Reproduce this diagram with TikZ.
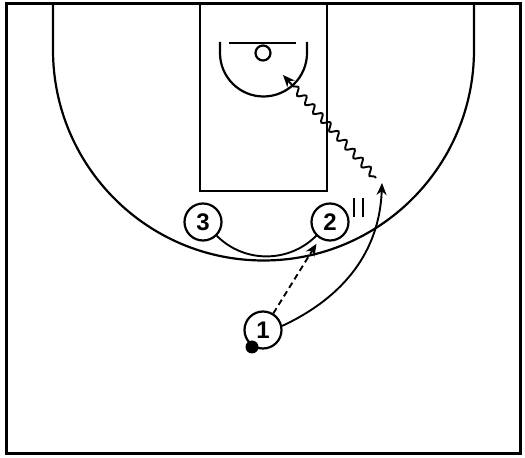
\documentclass[tikz,border=0pt]{standalone}
\usepackage{fontspec}
\setmainfont{Liberation Sans}
\usetikzlibrary{arrows.meta,decorations.pathmorphing}
\begin{document}
\begin{tikzpicture}[x=1pt,y=1pt,
  court/.style={line width=2.2pt},
  player/.style={circle,draw,line width=2.2pt,fill=white,minimum size=37pt,inner sep=0pt,font=\fontsize{24}{24}\selectfont\bfseries},
  ballstyle/.style={circle,fill=black,minimum size=13pt,inner sep=0pt},
  tip/.style={-{Stealth[length=12pt,width=10pt]}},
  move/.style={line width=1.9pt}
]
\useasboundingbox (0,0) rectangle (525,458);
% court
\draw[line width=3pt] (6,4) rectangle (520,454);
\draw[court] (53,454) -- (53,408) arc[start angle=180,end angle=360,radius=210.5] -- (474,454);
\draw[court] (200,454) rectangle (327,267);
\draw[court] (229,415) -- (296,415);
\draw[court] (263,405) circle[radius=7.5];
\draw[court] (220,416) -- (220,405) arc[start angle=180,end angle=360,radius=43.5] -- (307,416);
% players
\node[player] (p3) at (203,236) {3};
\node[player] (p2) at (330,236) {2};
\node[player] (p1) at (263,128) {1};
\node[ballstyle] (ball) at (252,111) {};
% coordinates
\coordinate (c2) at (382,275);
\coordinate (w1) at (376,280);
\coordinate (w2) at (283,383);
\coordinate (s1a) at (354,260);
\coordinate (s1b) at (354,241);
\coordinate (s2a) at (363,260);
\coordinate (s2b) at (363,241);
% cut 3 -> 2
\draw[move] (p3.-45) to[out=-45,in=-135] (p2.-135);
% pass 1 -> 2
\draw[move,dashed,dash pattern=on 6pt off 4pt,tip,shorten >=6pt] (p1) -- (p2);
% cut 1
\draw[move,tip] (p1.12) to[out=25,in=-92] (c2);
% dribble
\draw[move,tip,decorate,decoration={snake,amplitude=3.5pt,segment length=12pt,post length=10pt,pre length=2pt}] (w1) -- (w2);
% screen marks
\draw[line width=1.6pt] (s1a) -- (s1b);
\draw[line width=1.6pt] (s2a) -- (s2b);
\end{tikzpicture}
\end{document}
